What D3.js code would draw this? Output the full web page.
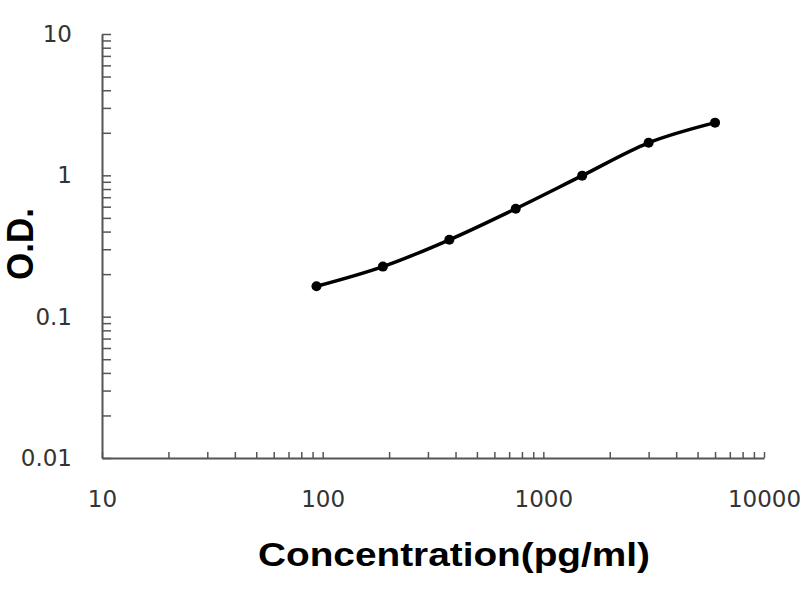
<!DOCTYPE html>
<html>
<head>
<meta charset="utf-8">
<script src="https://cdn.jsdelivr.net/npm/d3@7/dist/d3.min.js"></script>
<style>
  body { margin: 0; background: #fff; }
  .tick text { font-family: "DejaVu Sans", sans-serif; font-size: 23px; fill: #333; }
</style>
</head>
<body>
<div id="chart"></div>
<script>
// standard curve values
var concentration = [93.75, 187.5, 375, 750, 1500, 3000, 6000];
var od = [0.164, 0.226, 0.350, 0.581, 0.995, 1.70, 2.36];

var xMajor = [10, 100, 1000, 10000];
var yMajor = [0.01, 0.1, 1, 10];
var xLabels = ["10", "100", "1000", "10000"];
var yLabels = ["0.01", "0.1", "1", "10"];

var width = 800, height = 600;
var margin = {top: 34, right: 36, bottom: 142, left: 102};

var svg = d3.select("#chart")
  .append("svg")
    .attr("width", width)
    .attr("height", height);

var x = d3.scaleLog()
  .domain([10, 10000])
  .range([margin.left, width - margin.right]);

var y = d3.scaleLog()
  .domain([0.01, 10])
  .range([height - margin.bottom, margin.top]);

// every 1..9 step of each decade gets a tick, only the powers of ten get a label
function decadeTicks(major) {
  var t = [];
  for (var i = 0; i < major.length - 1; i++) {
    for (var k = 1; k < 10; k++) t.push(major[i] * k);
  }
  t.push(major[major.length - 1]);
  return t;
}

var xAxis = d3.axisBottom(x)
  .tickValues(decadeTicks(xMajor))
  .tickSizeInner(-6)
  .tickSizeOuter(0)
  .tickPadding(33)
  .tickFormat(function(d) {
    var i = xMajor.indexOf(d);
    return i >= 0 ? xLabels[i] : "";
  });

var yAxis = d3.axisLeft(y)
  .tickValues(decadeTicks(yMajor))
  .tickSizeInner(-9)
  .tickSizeOuter(0)
  .tickPadding(30)
  .tickFormat(function(d) {
    var i = yMajor.findIndex(function(m) { return Math.abs(m - d) < 1e-9; });
    return i >= 0 ? yLabels[i] : "";
  });

var gx = svg.append("g")
  .attr("transform", "translate(0," + (height - margin.bottom) + ")")
  .call(xAxis);

var gy = svg.append("g")
  .attr("transform", "translate(" + margin.left + ",0)")
  .call(yAxis);

[gx, gy].forEach(function(g) {
  g.select(".domain").attr("stroke", "#555").attr("stroke-width", 2);
  g.selectAll(".tick line").attr("stroke", "#555").attr("stroke-width", 1.5);
});

var pts = concentration.map(function(c, i) { return {x: c, y: od[i]}; });

svg.append("path")
  .datum(pts)
  .attr("fill", "none")
  .attr("stroke", "#000")
  .attr("stroke-width", 3.5)
  .attr("d", d3.line()
    .curve(d3.curveCatmullRom)
    .x(function(d) { return x(d.x); })
    .y(function(d) { return y(d.y); }));

svg.selectAll("circle")
  .data(pts)
  .enter()
  .append("circle")
    .attr("r", 5)
    .attr("fill", "#000")
    .attr("cx", function(d) { return x(d.x); })
    .attr("cy", function(d) { return y(d.y); });

// axis titles
svg.append("text")
  .attr("x", 454)
  .attr("y", 566)
  .attr("text-anchor", "middle")
  .attr("textLength", 392)
  .attr("lengthAdjust", "spacingAndGlyphs")
  .style("font-family", "'Liberation Sans', Arial, sans-serif")
  .style("font-weight", "bold")
  .style("font-size", "34px")
  .text("Concentration(pg/ml)");

svg.append("text")
  .attr("transform", "translate(33,244) rotate(-90)")
  .attr("text-anchor", "middle")
  .attr("textLength", 72)
  .attr("lengthAdjust", "spacingAndGlyphs")
  .style("font-family", "'Liberation Sans', Arial, sans-serif")
  .style("font-weight", "bold")
  .style("font-size", "36px")
  .text("O.D.");
</script>
</body>
</html>
